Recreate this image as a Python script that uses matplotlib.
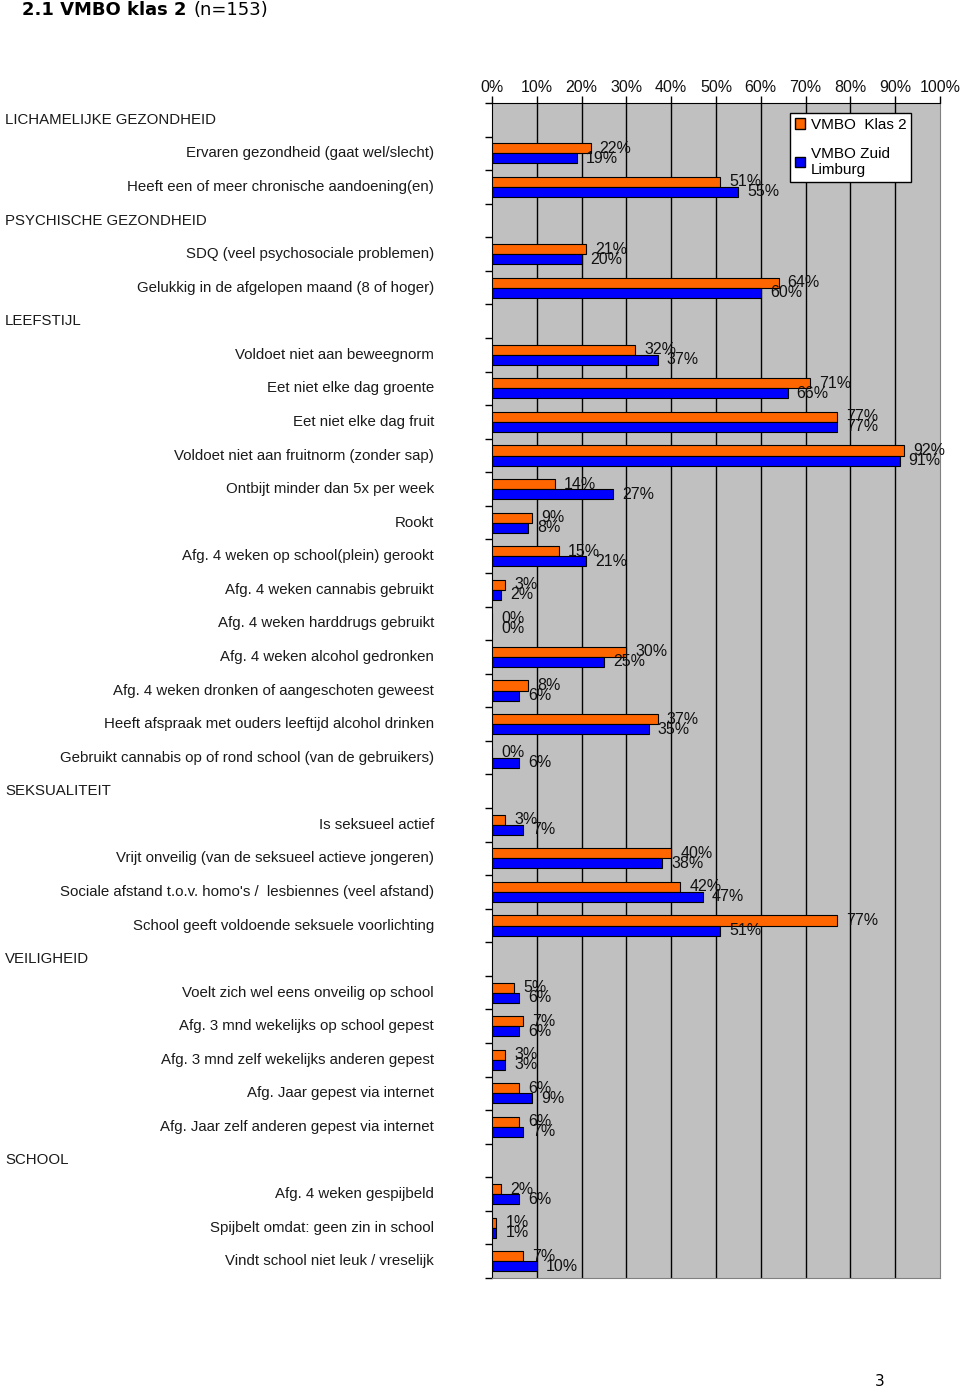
import matplotlib
matplotlib.use('agg')

import matplotlib.pyplot as plt
import matplotlib.ticker as ticker
import matplotlib.transforms as mtransforms
from matplotlib.patches import Patch
import numpy as np

# rows of the chart, None = section header row (no bars)
labels = [
    "LICHAMELIJKE GEZONDHEID",
    "Ervaren gezondheid (gaat wel/slecht)",
    "Heeft een of meer chronische aandoening(en)",
    "PSYCHISCHE GEZONDHEID",
    "SDQ (veel psychosociale problemen)",
    "Gelukkig in de afgelopen maand (8 of hoger)",
    "LEEFSTIJL",
    "Voldoet niet aan beweegnorm",
    "Eet niet elke dag groente",
    "Eet niet elke dag fruit",
    "Voldoet niet aan fruitnorm (zonder sap)",
    "Ontbijt minder dan 5x per week",
    "Rookt",
    "Afg. 4 weken op school(plein) gerookt",
    "Afg. 4 weken cannabis gebruikt",
    "Afg. 4 weken harddrugs gebruikt",
    "Afg. 4 weken alcohol gedronken",
    "Afg. 4 weken dronken of aangeschoten geweest",
    "Heeft afspraak met ouders leeftijd alcohol drinken",
    "Gebruikt cannabis op of rond school (van de gebruikers)",
    "SEKSUALITEIT",
    "Is seksueel actief",
    "Vrijt onveilig (van de seksueel actieve jongeren)",
    "Sociale afstand t.o.v. homo's /  lesbiennes (veel afstand)",
    "School geeft voldoende seksuele voorlichting",
    "VEILIGHEID",
    "Voelt zich wel eens onveilig op school",
    "Afg. 3 mnd wekelijks op school gepest",
    "Afg. 3 mnd zelf wekelijks anderen gepest",
    "Afg. Jaar gepest via internet",
    "Afg. Jaar zelf anderen gepest via internet",
    "SCHOOL",
    "Afg. 4 weken gespijbeld",
    "Spijbelt omdat: geen zin in school",
    "Vindt school niet leuk / vreselijk",
]

klas2 = [None, 22, 51, None, 21, 64, None, 32, 71, 77, 92, 14, 9, 15, 3, 0, 30, 8, 37, 0,
         None, 3, 40, 42, 77, None, 5, 7, 3, 6, 6, None, 2, 1, 7]
zuid = [None, 19, 55, None, 20, 60, None, 37, 66, 77, 91, 27, 8, 21, 2, 0, 25, 6, 35, 6,
        None, 7, 38, 47, 51, None, 6, 6, 3, 9, 7, None, 6, 1, 10]

series_names = ["VMBO  Klas 2", "VMBO Zuid\nLimburg"]
xticks = [0, 10, 20, 30, 40, 50, 60, 70, 80, 90, 100]

orange = '#ff6600'
blue = '#0000ff'
font = 'Liberation Sans'
txtcol = '#1a1a1a'

fig = plt.figure(figsize=(9.6, 13.88), dpi=100)
ax = fig.add_axes([492 / 960, 1 - 1278 / 1388, 448 / 960, 1175 / 1388])
ax.set_facecolor('#c0c0c0')

n = len(labels)
h = 0.3
for i in range(n):
    if klas2[i] is None:
        continue
    ax.barh(i - h / 2, klas2[i], height=h, color=orange, edgecolor='black', linewidth=0.8, zorder=3)
    ax.barh(i + h / 2, zuid[i], height=h, color=blue, edgecolor='black', linewidth=0.8, zorder=3)
    ax.annotate("%d%%" % klas2[i], (klas2[i], i - h / 2), xytext=(6.5, 0), textcoords='offset points',
                va='center', ha='left', fontsize=11.5, family=font, color='#111111', zorder=4)
    ax.annotate("%d%%" % zuid[i], (zuid[i], i + h / 2), xytext=(6.5, 0), textcoords='offset points',
                va='center', ha='left', fontsize=11.5, family=font, color='#111111', zorder=4)

ax.set_xlim(0, 100)
ax.set_ylim(n - 0.5, -0.5)

# vertical grid
for x in xticks[1:-1]:
    ax.axvline(x, color='black', linewidth=1, zorder=1)

ax.xaxis.tick_top()
ax.set_xticks(xticks)
ax.set_xticklabels(["%d%%" % x for x in xticks], family=font, fontsize=11.5, color='#111111')
ax.tick_params(axis='x', direction='out', length=5, width=1, color='black', pad=1)

ax.set_yticks([])
ax.yaxis.set_minor_locator(ticker.FixedLocator(np.arange(n + 1) - 0.5))
ax.tick_params(axis='y', which='minor', direction='out', length=5, width=1, color='black')

ax.spines['left'].set_color('black')
ax.spines['top'].set_color('black')
ax.spines['right'].set_color('#808080')
ax.spines['bottom'].set_color('#808080')

# category labels and section headers
trans = mtransforms.blended_transform_factory(fig.transFigure, ax.transData)
for i, lab in enumerate(labels):
    if klas2[i] is None:
        fig.text(5 / 960, i, lab, transform=trans, ha='left', va='center',
                 fontsize=10.8, family=font, color=txtcol)
    else:
        fig.text(434 / 960, i, lab, transform=trans, ha='right', va='center',
                 fontsize=10.8, family=font, color=txtcol)

handles = [Patch(facecolor=orange, edgecolor='black'), Patch(facecolor=blue, edgecolor='black')]
leg = ax.legend(handles, series_names, loc='upper left',
                bbox_to_anchor=(790 / 960, 1 - 113 / 1388), bbox_transform=fig.transFigure,
                prop={'family': font, 'size': 11}, frameon=True, fancybox=False,
                edgecolor='black', framealpha=1, borderpad=0.3, labelspacing=1.0,
                handlelength=0.7, handleheight=0.7, handletextpad=0.35, borderaxespad=0)
leg.get_frame().set_linewidth(1)
leg._legend_box.align = 'left'

# title
renderer = fig.canvas.get_renderer()
t1 = fig.text(22 / 960, 1 - 1 / 1388, "2.1 VMBO klas 2", ha='left', va='top',
              fontsize=13, fontweight='bold', family='DejaVu Sans')
bb = t1.get_window_extent(renderer)
fig.text((bb.x1 + 7) / 960, 1 - 1 / 1388, "(n=153)", ha='left', va='top',
         fontsize=13, family='DejaVu Sans')

fig.text(880 / 960, 1 - 1382 / 1388, "3", ha='center', va='center', fontsize=11, family='DejaVu Sans')

plt.savefig("out.png", dpi=100)
